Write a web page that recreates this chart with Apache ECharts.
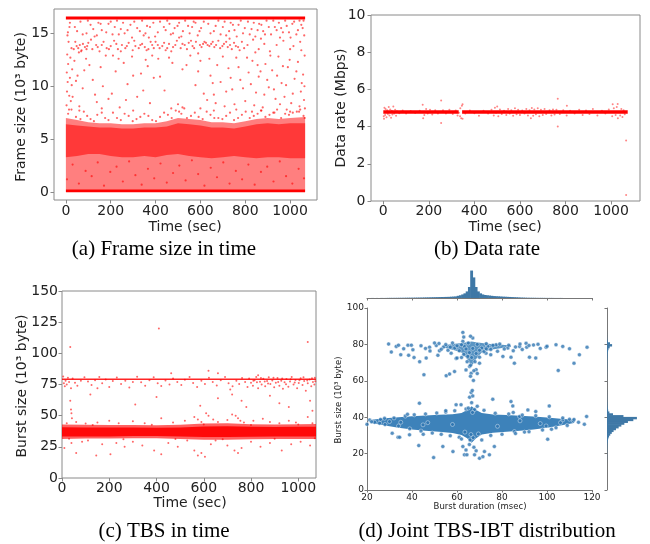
<!DOCTYPE html>
<html><head><meta charset="utf-8">
<script src="https://cdn.jsdelivr.net/npm/echarts@6/dist/echarts.min.js"></script>
<style>html,body{margin:0;padding:0;background:#fff}#c{width:650px;height:544px}</style>
</head><body><div id="c"></div><script>
// ---------- (a) Frame size in time ----------
const timeTicks = [0, 200, 400, 600, 800, 1000];
const frameTicks = [0, 5, 10, 15];
const frameTopLine = [[0, 16.44], [1067, 16.44]];
const frameBottomLine = [[0, 0.12], [1067, 0.12]];
const frameBandT = [0, 50, 100, 150, 200, 250, 300, 350, 400, 450, 500, 550, 600, 650, 700, 750, 800, 850, 900, 950, 1000, 1067];
const frameBandLo = [0.3, 0.3, 0.3, 0.3, 0.3, 0.3, 0.3, 0.3, 0.3, 0.3, 0.3, 0.3, 0.3, 0.3, 0.3, 0.3, 0.3, 0.3, 0.3, 0.3, 0.3, 0.3];
const frameBandHi = [7.0, 6.8, 6.6, 6.5, 6.5, 6.4, 6.4, 6.5, 6.5, 6.7, 7.0, 6.9, 6.8, 6.6, 6.6, 6.5, 6.7, 6.9, 7.0, 6.9, 7.0, 7.1];
const frameCoreLo = [3.3, 3.4, 3.6, 3.6, 3.4, 3.3, 3.3, 3.4, 3.3, 3.5, 3.6, 3.4, 3.3, 3.2, 3.3, 3.4, 3.3, 3.2, 3.3, 3.3, 3.2, 3.2];
const frameCoreHi = [6.4, 6.3, 6.2, 6.1, 6.1, 6.0, 6.0, 6.1, 6.1, 6.2, 6.5, 6.4, 6.3, 6.1, 6.1, 6.0, 6.2, 6.4, 6.5, 6.4, 6.5, 6.5];
const framePoints = [
 [3,8.2],[5,9.5],[8,10.4],[4,11.3],[10,12.1],[6,13.0],[12,14.2],[9,15.1],[15,9.1],[18,10.8],[20,12.7],[25,13.6],[14,7.8],[22,8.6],[28,11.6],[7,14.8],[16,15.6],[26,10.1],
 [35,13.5],[48,13.8],[55,13.6],[62,13.9],[70,13.4],[85,13.7],[100,14.1],[118,13.5],[135,13.9],[150,13.3],[168,14.2],[182,13.6],[200,13.8],[215,14.3],[232,13.5],[250,13.9],[265,13.6],[280,14.1],[298,13.4],[310,13.8],[325,13.6],[340,14.0],[352,13.7],[368,13.5],[385,13.9],[400,14.2],[418,13.6],[430,13.8],[445,13.4],[460,14.0],[478,13.7],[495,14.3],[512,13.6],[530,13.9],[548,14.1],[565,13.8],[580,14.2],[598,13.9],[612,14.0],[625,14.1],[640,13.8],[655,14.2],[670,13.9],[688,13.6],[705,14.0],[722,13.7],[740,13.5],[758,13.8],[775,13.4],[795,13.6],
 [58,13.2],[76,14.0],[92,13.5],[210,12.9],[370,14.6],[590,13.1],[730,14.5],[845,13.2],[1000,13.5],[1045,14.2],
 [42,14.2],[68,13.3],[95,13.8],[112,14.4],[142,13.7],[160,13.9],[192,13.5],[225,14.0],[245,13.3],[272,13.8],[305,14.3],[332,13.9],[360,13.4],[378,14.2],[392,13.6],[410,13.9],[438,14.1],[452,13.6],[470,13.3],[488,13.9],[520,14.0],[540,13.5],[558,14.3],[572,13.6],[605,13.7],[618,14.2],[632,13.9],[648,14.0],[662,13.7],[680,14.3],[698,13.8],[715,14.2],[732,13.9],[750,14.1],[768,13.7],[785,14.2],[810,13.9],[835,14.4],[860,13.5],[885,14.0],[910,13.3],[940,13.9],[970,14.3],[1015,13.8],[1050,13.4],
 [40,15.6],[65,16.1],[92,15.0],[110,15.8],[128,14.7],[145,16.0],[160,15.3],[190,15.9],[208,14.9],[228,16.2],[245,15.4],[262,15.0],[288,15.8],[305,16.1],[330,15.2],[347,14.8],[362,15.7],[390,16.0],[410,15.1],[437,15.6],[452,16.2],[468,14.9],[485,15.5],[505,16.0],[522,15.2],[545,15.7],[570,16.1],[588,14.8],[603,15.5],[635,15.9],[660,15.2],[680,16.2],[700,15.6],[715,14.8],[735,16.0],[752,15.3],[770,15.8],[790,15.0],[812,16.1],[828,15.4],[845,14.7],[862,15.9],[880,15.2],[895,16.2],[915,14.9],[932,15.6],[950,16.0],[968,15.1],[985,15.7],[1002,14.6],[1018,16.1],[1035,15.3],[1050,15.8],[1063,14.8],[1060,16.2],[955,14.6],[870,14.5],[505,14.6],
 [18,16.0],[50,15.2],[75,14.9],[98,16.2],[122,15.4],[138,14.8],[155,15.9],[180,15.1],[200,16.1],[218,15.6],[236,14.9],[255,16.0],[275,15.3],[295,14.6],[318,15.5],[340,16.2],[355,15.0],[375,15.6],[398,14.7],[420,16.1],[445,15.3],[462,15.9],[478,15.0],[498,15.7],[515,14.7],[532,16.2],[552,15.0],[563,15.6],[578,16.0],[596,15.2],[615,16.1],[645,15.0],[668,15.7],[690,14.9],[708,16.1],[728,15.2],[745,15.8],[762,14.7],[780,16.2],[798,15.5],[820,14.9],[838,16.0],[855,15.3],[872,15.8],[888,14.9],[905,15.6],[925,16.2],[940,15.3],[960,15.5],[978,16.2],[995,15.1],[1010,15.9],[1028,14.9],[1042,16.2],[1056,15.5],
 [38,12.4],[52,11.0],[75,9.8],[90,12.6],[120,10.6],[138,8.5],[155,11.8],[178,12.9],[205,9.3],[222,11.4],[240,8.0],[258,12.2],[275,10.2],[295,12.8],[318,9.0],[335,11.2],[356,12.5],[375,8.4],[392,10.8],
 [412,12.6],[440,9.6],[475,12.2],[500,8.3],[520,11.6],[555,12.9],[578,10.1],[600,12.4],[630,8.7],[645,11.0],
 [660,9.2],[675,12.0],[690,10.4],[708,8.1],[725,11.7],[742,9.7],[760,12.7],[778,10.6],[800,8.6],[815,11.3],[832,12.4],[848,9.4],[860,10.9],[878,8.0],[890,12.1],[905,9.9],[920,11.5],[935,8.8],[948,12.8],[962,10.3],[975,9.0],[990,11.8],[1005,8.4],[1020,10.7],[1035,12.3],[1048,9.5],[1058,11.1],[1065,12.9],[1062,8.7],[1040,7.6],[985,7.8],[870,7.7],
 [30,9.0],[45,10.5],[60,8.1],[82,11.5],[105,12.0],[130,9.2],[165,10.0],[190,8.8],[235,12.6],[268,8.7],[300,11.0],[345,9.6],[365,11.9],[385,12.9],[420,10.9],[460,12.7],[538,12.0],[590,11.4],[615,9.3],[640,12.6],[655,10.3],[668,8.4],[700,12.8],[715,9.5],[735,10.8],[752,8.3],[770,11.8],[790,9.8],[808,12.7],[825,10.2],[840,8.2],[855,12.0],[868,11.4],[885,9.2],[898,10.6],[912,12.9],[928,9.7],[942,11.0],[955,8.3],[968,11.9],[982,10.1],[998,12.5],[1012,9.3],[1028,11.4],[1042,8.1],[1052,10.3],[1064,10.0],[1066,7.9],[1000,7.6],[930,7.5],[830,7.6],[760,7.8],[660,7.7],[600,7.9],[520,8.0],[470,7.9],[300,7.7],[160,7.9],[60,7.7],
 [10,7.4],[45,7.1],[80,7.6],[110,6.9],[140,7.3],[175,7.0],[210,7.5],[245,6.8],[280,7.2],[315,6.9],[350,7.4],[385,6.8],[420,7.1],[455,7.3],[490,7.7],[515,7.4],[540,7.0],[575,7.5],[610,6.9],[645,7.3],[680,7.0],[715,7.2],[750,6.8],[785,7.3],[820,7.0],[855,7.4],[890,7.1],[925,7.5],[960,7.0],[995,7.3],[1030,7.6],[1060,7.2],
 [25,7.8],[65,6.9],[95,7.2],[125,6.7],[160,7.5],[190,6.8],[228,7.0],[262,7.4],[298,6.7],[332,7.1],[368,7.2],[402,6.7],[438,7.5],[472,7.0],[505,7.6],[528,7.9],[558,7.2],[592,7.1],[628,7.6],[662,7.0],[698,6.9],[732,7.5],[768,7.0],[802,7.6],[838,7.2],[872,7.7],[908,7.3],[942,7.8],[978,7.4],[1012,7.5],[1045,7.8],[1065,7.0],
 [5,1.2],[30,2.6],[58,0.8],[88,2.0],[115,1.5],[142,2.8],[170,0.6],[198,1.9],[226,2.4],[254,1.0],[282,2.9],[310,1.6],[338,0.7],[366,2.2],[394,1.3],[422,2.7],[450,0.9],[478,1.8],[506,2.5],[534,1.1],[562,3.0],[590,1.7],[618,0.6],[646,2.3],[674,1.4],[702,2.8],[730,0.8],[758,2.0],[786,1.2],[814,2.6],[842,0.7],[870,1.9],[898,2.4],[926,1.0],[954,2.9],[982,1.5],[1010,0.8],[1038,2.2],[1062,1.3]
];

// ---------- (b) Data rate ----------
const rateTicks = [0, 2, 4, 6, 8, 10];
const rateLine1 = [[0, 4.79], [331, 4.79]];
const rateLine2 = [[346, 4.79], [1073, 4.79]];
const ratePoints = [
 [2,4.55],[5,5.02],[8,4.62],[10,4.95],[14,4.5],[17,4.88],[20,4.68],[24,5.05],[27,4.6],[30,4.92],[34,4.47],[37,4.85],[40,4.65],[44,5.08],[48,4.7],[52,4.9],[56,4.58],[60,4.83],[3,4.42],
 [70,4.72],[85,4.86],[100,4.7],[120,4.84],[140,4.73],[160,4.85],
 [173,5.17],[175,4.45],[180,4.62],[188,4.95],[195,4.7],[205,4.9],[215,4.65],[228,4.88],[240,4.7],[254,5.4],[254,4.2],[262,4.88],[275,4.7],[290,4.9],[305,4.68],[318,4.86],[326,4.6],
 [332,4.75],[337,4.55],[348,5.2],[342,4.45],[345,5.12],[338,4.98],[348,4.42],
 [360,4.7],[380,4.86],[400,4.72],[420,4.58],[440,4.85],[460,4.7],[475,4.9],
 [485,4.6],[490,5.02],[495,4.75],[500,5.08],[505,4.55],[512,4.92],[520,4.68],[530,4.85],[540,4.62],[548,4.95],[555,4.7],[562,4.88],[570,4.58],[578,4.98],[585,4.66],[592,4.9],[600,4.62],[610,4.86],[620,4.7],[628,4.95],[635,4.6],[642,4.88],[648,4.45],[652,5.0],[658,4.58],[663,4.92],[670,4.66],[678,4.98],[685,4.55],[692,4.9],[700,4.62],[708,4.95],[715,4.68],[766,5.5],[766,4.0],[730,4.88],[738,4.6],[745,4.92],[752,4.65],[760,4.9],
 [775,4.68],[790,4.88],[806,5.12],[805,4.6],[820,4.85],[840,4.7],[860,4.9],[875,4.62],[890,4.86],[905,4.68],[920,4.95],[940,4.6],[960,4.85],[975,4.7],[990,4.92],[1007,5.2],[1005,4.55],[1012,4.98],[1020,4.62],[1025,5.05],[1030,4.45],[1029,5.22],[1040,4.6],[1045,4.95],[1050,4.52],[1055,4.88],[1060,4.66],[1066,3.25],[1066,0.32]
];

// ---------- (c) TBS in time ----------
const burstTicks = [0, 25, 50, 75, 100, 125, 150];
const tbsUpperLine = [[0, 79.3], [1075, 79.3]];
const tbsBandT = [0, 100, 200, 300, 400, 500, 600, 700, 800, 900, 1000, 1075];
const tbsCoreLo = [33.3, 33.3, 33.3, 33.6, 33.6, 33.3, 32.8, 32.8, 33.0, 33.3, 33.3, 33.3];
const tbsCoreHi = [40.8, 40.6, 40.5, 40.5, 40.3, 40.6, 41.4, 41.5, 41.1, 40.9, 41.1, 41.2];
const tbsHaloLo = [31.3, 31.6, 31.6, 31.8, 31.8, 31.3, 30.6, 30.6, 31.0, 31.3, 31.3, 31.3];
const tbsHaloHi = [43.0, 42.7, 42.6, 42.6, 42.4, 42.8, 43.8, 44.0, 43.2, 43.0, 43.2, 43.4];
const tbsPoints = [
 [5,81.5],[8,76],[12,73.5],[15,78],[20,75],[25,80.5],[30,77],[38,72],[45,79.8],[55,76.5],[65,74],[80,78],[95,80.8],[110,77.5],[125,74.5],[140,78.5],[158,81],[170,76],[185,79],[200,73],[215,77.8],[232,80.6],[250,75.5],[268,78],[285,72.5],[300,77],[318,81.2],[335,76.8],[352,74],[370,78.5],[388,80.9],[405,76],[420,73.8],[438,78.2],[455,75],[462,84],[470,79.8],[488,77],[505,74.5],[520,78.8],[540,81],[555,76.2],[572,73],[590,78],[605,75.5],[620,86],[622,80.5],[638,77],[655,74.2],[660,84],[672,78.5],[690,81],[705,76],[712,71],[722,73.5],[738,78],[750,75.5],[762,80.2],[775,77],[785,73],[792,79.8],[800,76.5],[808,74],[815,78.5],[822,81],[830,72],[838,77.2],[845,75],[852,79.6],[860,73.5],[868,77.8],[875,80.8],[882,75.5],[890,78.3],[898,72.8],[905,76.5],[912,80.2],[920,74],[928,78],[935,71.5],[942,76.8],[950,79.5],[958,73.2],[965,77.5],[972,81],[980,75],[988,78.6],[995,72],[1002,76.2],[1010,80],[1018,74.5],[1025,77.8],[1032,70],[1040,76],[1048,79],[1055,73.5],[1062,77],[1070,80.5],[1068,75],
 [810,78],[825,76.8],[842,80.2],[858,77.5],[872,75.8],[895,80.5],[915,77],[932,79.8],[948,75.2],[968,79.2],[985,76.6],[1005,78.4],[1022,80.8],[1038,78.2],[1058,80],[1072,77.6],
 [410,120],[1040,109],[35,105],[830,82.5],
 [35,62],[38,55],[40,52],[42,48],[310,59],[400,65],[660,64],[720,67],[760,62],[920,60],[1050,62],[1060,54],[880,66],[960,57],[780,57],[120,67],[585,58],[150,72],
 [20,44],[60,45],[100,43.8],[150,44.5],[200,46],[240,44],[300,45.5],[350,44],[420,48],[470,44.5],[520,46],[560,49],[575,47],[590,45],[610,52],[620,50],[640,47],[660,45],[700,46.5],[720,51],[735,50],[745,48],[755,46],[770,44.5],[810,46],[850,47.5],[880,45],[920,44],[960,46],[990,44.5],[1040,49],[1060,44],
 [10,24],[40,28],[60,20],[85,29],[110,30],[145,18],[170,27],[205,19],[230,28],[265,25],[300,29],[340,26],[390,22],[420,19],[450,28],[490,25],[530,30],[560,22],[575,18],[590,20],[605,17],[630,27],[650,30],[700,26],[730,22],[745,20],[760,24],[800,29],[840,25],[880,28],[930,22],[970,27],[1010,29],[1050,26],
 [30,31.5],[130,42.5],[260,31],[380,42.8],[480,31.2],[600,43],[680,31],[800,42.6],[900,31.4],[1000,42.9],[1070,31.8]
];

// ---------- (d) Joint TBS-IBT distribution ----------
const durTicks = [20, 40, 60, 80, 100, 120];
const sizeTicks = [0, 20, 40, 60, 80, 100];
const lowCoreX  = [22, 28, 34, 40, 46, 52, 58, 62, 64.5, 66.5, 68.5, 71, 76, 82, 88, 94, 100, 106, 112];
const lowCoreLo = [36.8, 35.5, 34.2, 33.3, 32.6, 32.0, 31.3, 30.2, 28.5, 26.0, 28.5, 30.5, 31.5, 32.0, 32.5, 33.2, 34.2, 35.5, 36.8];
const lowCoreHi = [38.6, 39.4, 40.0, 40.5, 41.0, 41.3, 41.6, 42.3, 44.0, 46.0, 44.0, 42.3, 41.5, 41.2, 40.8, 40.4, 39.8, 39.2, 38.6];
const upCoreX  = [54, 58, 62, 64.5, 66.5, 68.5, 71, 75, 80, 84];
const upCoreLo = [78.3, 77.0, 75.5, 72.0, 68.0, 72.0, 75.5, 77.0, 78.0, 78.6];
const upCoreHi = [79.6, 80.2, 80.8, 81.2, 81.6, 81.2, 80.8, 80.2, 79.8, 79.4];
const jointPoints = [
 [29.6,80.2],[30.8,75.8],[33,78.9],[34,79.6],[35,74.3],[36.3,77.6],[38.2,79.6],[38.5,74],[39.7,79.6],[40.4,77],[40.9,72.8],[43.4,70.5],[45.3,63.3],[46,77.8],[46.3,72.5],[47.8,78.5],[50.8,79.4],[51.5,74],[52.2,76.5],[55.2,62.8],[56.7,63.7],[58.9,65.1],[57.4,75.2],[59.6,72.3],[62.6,81.7],[62.6,86.6],[63.3,78.9],[64.8,73.4],[65.6,67.9],[66.3,64.2],[67.3,60.2],[68.5,66.1],[70,69.7],[72.9,75.2],[73.7,78.9],[77.4,79.8],[80.4,73.4],[82.6,78],[84,73],[85.5,69.7],[87.8,78.9],[90.7,80.6],[92.2,73],[95,72.5],[99.6,78.5],[104,79.8],[107,78.9],[110,77.6],[112,69.7],[114.4,74.3],[105,65.7],[117.8,78.5],
 [52,80.5],[54,78.6],[56,76.8],[58,80.8],[59,78],[61,76.5],[62,79.8],[63,74.5],[64,77.5],[64.5,70.5],[65,80.8],[65.5,75.5],[66,68.5],[66.5,72.8],[67,77.8],[67.5,65.5],[68,70.5],[68.5,75],[69,80],[70,73],[71,78],[72,76],[73,80.4],[75,77.2],[76,79.5],[78,76.2],[79,80.2],[81,77.5],[83,79.6],[85,76.5],[88,80.2],[91,78.5],[94,79.7],[97,77.8],[60,72.5],[57,78.5],[66,62.5],[64,66],[69,64],[67,83.5],[66,84.5],[63,84],
 [44,79.2],[48,76.4],[50,80.8],[53,77.4],[55,79.9],[86,78.6],[89,77.2],[92,79.4],[96,80.1],[100,79.0],[75,74.3],[62,72.8],[70,76.8],[60,79.2],[73,77.6],
 [20,36.1],[21.2,38.5],[23.4,37.2],[25.6,36.7],[27.8,39.4],[30,37.6],[31.2,31.2],[33.8,29],[34.5,29],[38.9,30.3],[43,24.4],[43.3,47.7],[44.9,35.8],[49.6,17.8],[53.7,23.9],[58.2,21.1],[59.6,46.8],[61,29],[61.8,46.8],[62.6,23.9],[63.3,19.3],[64,22],[64.4,19.3],[65.6,51],[66.3,53.6],[66.8,54.7],[67,51.7],[67.8,19.3],[68.5,21.5],[70,17.4],[71.5,18.3],[72.2,21.1],[74.4,19.3],[75.9,49.9],[76.6,23.9],[84,48.6],[84.8,46.2],[85.5,32.1],[87.8,40.4],[91.5,44],[95,43.1],[99.6,35.2],[100.3,27.9],[101,46.2],[107,38.5],[110,38.9],[111.7,38],[116.6,36.1],[117.6,40.4],
 [22,37.5],[26,38.8],[28,36],[32,39.6],[34,35.2],[37,40.6],[39,33.6],[41,41.3],[44,32.4],[46,41.8],[49,31.3],[51,42.3],[53,30.6],[55,42.8],[57,29.8],[59,43.5],[62,28],[64,44.5],[65.5,25],[66.5,48],[67.5,23.5],[69,46],[71,27.5],[72,43.8],[75,30],[77,42.2],[80,30.6],[83,41.8],[86,31],[89,41.2],[92,32],[95,40.8],[98,33],[101,40.2],[104,34.2],[107,39.6],[109,35.5],[112,38.8],[114,37.2],[106,37],[97,36.5],[88,38],[78,35],[58,36],[47,37],[35,37.2],
 [65.8,27.5],[67.2,28.8],[66.2,30.5],[65,45],[67.8,44.2],[66.9,42.6],[63.5,31.8],[69.5,30.8],[45,30.6],[55,43.6],[85,42.6],[90,31.8],[102,33.4],[38,41.6]
];
// marginal histograms (relative heights), 1-unit bins
const durBinStart = 20;
const durCounts = [
 0,0,0.2,0,0.2,0,0.3,0.2,0.3,0.4,
 0.5,0.5,0.6,0.6,0.7,0.8,0.9,1.0,1.1,1.2,
 1.3,1.4,1.5,1.7,1.8,2.0,2.2,2.4,2.6,2.8,
 3.0,3.2,3.4,3.6,3.8,4.0,4.3,4.7,5.2,5.8,
 8,10,13,17,24,40,100,75,40,24,
 17,13,11,10,9,8,7,6.5,6,5.5,
 5,4.6,4.2,3.8,3.4,3.0,2.6,2.2,1.8,1.5,
 1.2,1.0,0.9,0.8,0.7,0.6,0.5,0.5,0.4,0.4,
 0.3,0.3,0.3,0.2,0.2,0.2,0.2,0.1,0.1,0.1,
 0.1,0.1,0,0.1,0,0,0,0.1,0,0
];
const sizeBinStart = 0;
const sizeCounts = [
 0,0,0,0,0,0,0,0,0,0,
 0,0,0,0,0,0.1,0.2,0.3,0.4,0.4,
 0.5,0.6,0.7,0.9,1.2,1.6,2.2,3,4.5,7,
 11,16,22,30,39,48,58,70,88,100,
 55,20,8,4,2.5,1.8,1.3,1,0.8,0.6,
 0.5,0.4,0.3,0.2,0.2,0.1,0,0,0.1,0.1,
 0.2,0.2,0.3,0.3,0.4,0.5,0.6,0.7,0.8,0.9,
 1,1.2,1.4,1.7,2,2.5,3.5,5,9,17,
 10,3,1,0.5,0.3,0.2,0.1,0,0,0,
 0,0,0,0,0,0,0,0,0,0
];

// ---------- build ----------
const RED = 'rgba(255,0,0,0.75)';
const BOX = '#8a8a8a';
const TXT = '#222';
const FONT = 'DejaVu Sans';

function bandSeries(xi, xs, lo, hi, color, z) {
  return {
    type: 'custom', xAxisIndex: xi, yAxisIndex: xi, silent: true, z: z, clip: true,
    data: [[xs[0], lo[0]]],
    renderItem: function (params, api) {
      const pts = [];
      for (let i = 0; i < xs.length; i++) pts.push(api.coord([xs[i], hi[i]]));
      for (let i = xs.length - 1; i >= 0; i--) pts.push(api.coord([xs[i], lo[i]]));
      return { type: 'polygon', shape: { points: pts }, style: { fill: color } };
    }
  };
}
function histSeries(idx, start, counts, horizontal, color) {
  const data = counts.map(function (c, i) { return horizontal ? [c, start + i] : [start + i, c]; });
  return {
    type: 'custom', xAxisIndex: idx, yAxisIndex: idx, silent: true, clip: false, data: data,
    renderItem: function (params, api) {
      let p0, p1;
      if (horizontal) {
        const c = api.value(0), y = api.value(1);
        if (c <= 0) return null;
        p0 = api.coord([0, y]); p1 = api.coord([c, y + 1]);
        return { type: 'rect', shape: { x: p0[0], y: p1[1] - 0.3, width: p1[0] - p0[0], height: p0[1] - p1[1] + 0.6 }, style: { fill: color } };
      }
      const x = api.value(0), c = api.value(1);
      if (c <= 0) return null;
      p0 = api.coord([x, 0]); p1 = api.coord([x + 1, c]);
      return { type: 'rect', shape: { x: p0[0] - 0.3, y: p1[1], width: p1[0] - p0[0] + 0.6, height: p0[1] - p1[1] }, style: { fill: color } };
    }
  };
}
function lineSeries(idx, data, width, color) {
  return { type: 'line', xAxisIndex: idx, yAxisIndex: idx, data: data, symbol: 'none', silent: true, z: 3,
    lineStyle: { color: color, width: width }, animation: false };
}
function scatterSeries(idx, data, size, style) {
  return { type: 'scatter', xAxisIndex: idx, yAxisIndex: idx, data: data, symbolSize: size, silent: true, z: 4,
    itemStyle: style, animation: false };
}
function boxAxis(pos, min, max, ticks, margin, fs) {
  return {
    type: 'value', position: pos, min: min, max: max,
    axisLine: { show: false, onZero: false },
    axisTick: { show: true, length: 3.5, lineStyle: { color: BOX }, customValues: ticks },
    axisLabel: { show: true, customValues: ticks, margin: margin, color: TXT, fontFamily: FONT, fontSize: fs, formatter: function (v) { return String(v); } },
    splitLine: { show: false }
  };
}
function plainAxis(pos, min, max) {
  return { type: 'value', position: pos, min: min, max: max, show: false,
    axisLine: { show: false, onZero: false }, axisTick: { show: false }, axisLabel: { show: false }, splitLine: { show: false } };
}
function jointAxis(pos, min, max, ticks, labels) {
  const st = { color: '#777', width: 1 };
  return { type: 'value', position: pos, min: min, max: max,
    axisLine: { show: true, onZero: false, lineStyle: st },
    axisTick: { show: true, length: 2.5, lineStyle: st, customValues: ticks },
    axisLabel: { show: labels, customValues: ticks, margin: 3, color: TXT, fontFamily: FONT, fontSize: 9, formatter: function (v) { return String(v); } },
    splitLine: { show: false } };
}

const grids = [
  { left: 54, top: 9, width: 263, height: 191, show: true, borderColor: BOX, borderWidth: 1 },
  { left: 371, top: 15, width: 269, height: 186, show: true, borderColor: BOX, borderWidth: 1 },
  { left: 62, top: 291, width: 254, height: 187, show: true, borderColor: BOX, borderWidth: 1 },
  { left: 367, top: 308, width: 225, height: 182 },
  { left: 367, top: 270, width: 225, height: 28 },
  { left: 607, top: 308, width: 32, height: 182 }
].map(function (g) { return Object.assign({ containLabel: false, outerBoundsMode: 'none' }, g); });

const xAxes = [
  Object.assign(boxAxis('bottom', -53, 1120, timeTicks, 4, 14), { gridIndex: 0 }),
  Object.assign(boxAxis('bottom', -54, 1127, timeTicks, 3, 14), { gridIndex: 1 }),
  Object.assign(boxAxis('bottom', 0, 1075, timeTicks, 3, 14), { gridIndex: 2 }),
  Object.assign(jointAxis('bottom', 20, 120, durTicks, true), { gridIndex: 3 }),
  Object.assign(jointAxis('bottom', 20, 120, durTicks, false), { gridIndex: 4 }),
  Object.assign(plainAxis('bottom', 0, 107), { gridIndex: 5 })
];
const yAxes = [
  Object.assign(boxAxis('left', -0.75, 17.3, frameTicks, 5, 14), { gridIndex: 0 }),
  Object.assign(boxAxis('left', 0, 10, rateTicks, 5.5, 14), { gridIndex: 1 }),
  Object.assign(boxAxis('left', 0, 150, burstTicks, 4, 14), { gridIndex: 2 }),
  Object.assign(jointAxis('left', 0, 100, sizeTicks, true), { gridIndex: 3 }),
  Object.assign(plainAxis('left', 0, 102), { gridIndex: 4 }),
  Object.assign(jointAxis('left', 0, 100, sizeTicks, false), { gridIndex: 5 })
];

const BLUE = '#2f76b2';
const series = [
  bandSeries(0, frameBandT, frameBandLo, frameBandHi, 'rgba(255,0,0,0.5)', 1),
  bandSeries(0, frameBandT, frameCoreLo, frameCoreHi, 'rgba(255,0,0,0.55)', 1),
  lineSeries(0, frameTopLine, 3, '#ff0000'),
  lineSeries(0, frameBottomLine, 3, '#ff0000'),
  scatterSeries(0, framePoints, 2.2, { color: RED }),
  lineSeries(1, rateLine1, 3.5, '#ff0000'),
  lineSeries(1, rateLine2, 3.5, '#ff0000'),
  scatterSeries(1, ratePoints, 2, { color: 'rgba(255,0,0,0.6)' }),
  bandSeries(2, tbsBandT, tbsHaloLo, tbsHaloHi, 'rgba(255,0,0,0.62)', 1),
  bandSeries(2, tbsBandT, tbsCoreLo, tbsCoreHi, 'rgba(255,0,0,0.9)', 1),
  lineSeries(2, tbsUpperLine, 1.5, 'rgba(255,0,0,0.85)'),
  scatterSeries(2, tbsPoints, 2, { color: RED }),
  bandSeries(3, lowCoreX, lowCoreLo, lowCoreHi, '#3d82ba', 1),
  bandSeries(3, upCoreX, upCoreLo, upCoreHi, 'rgba(61,130,186,0.85)', 1),
  scatterSeries(3, jointPoints, 4, { color: BLUE, borderColor: '#ffffff', borderWidth: 0.5 }),
  histSeries(4, durBinStart, durCounts, false, '#3f78a6'),
  histSeries(5, sizeBinStart, sizeCounts, true, '#3f78a6')
];

function label(text, x, y, size, rot, family) {
  return { type: 'text', x: x, y: y, rotation: rot || 0, silent: true,
    style: { text: text, fill: family ? '#000' : TXT, font: size + 'px "' + (family || FONT) + '"', align: 'center', verticalAlign: 'middle' } };
}
const graphics = [
  label('Frame size (10³ byte)', 21, 107, 14, Math.PI / 2),
  label('Time (sec)', 185, 227, 14),
  label('Data rate (Mbps)', 341, 108, 14, Math.PI / 2),
  label('Time (sec)', 505, 227, 14),
  label('Burst size (10³ byte)', 22, 386, 14, Math.PI / 2),
  label('Time (sec)', 190, 503, 14),
  label('Burst size (10³ byte)', 339, 400, 8.5, Math.PI / 2),
  label('Burst duration (msec)', 480, 507, 8.5),
  label('(a) Frame size in time', 164, 249, 21, 0, 'Liberation Serif'),
  label('(b) Data rate', 487, 249, 21, 0, 'Liberation Serif'),
  label('(c) TBS in time', 164, 531, 21, 0, 'Liberation Serif'),
  label('(d) Joint TBS-IBT distribution', 487, 531, 21, 0, 'Liberation Serif')
];

const chart = echarts.init(document.getElementById('c'), null, { renderer: 'canvas' });
chart.setOption({
  animation: false,
  backgroundColor: '#ffffff',
  grid: grids, xAxis: xAxes, yAxis: yAxes, series: series,
  graphic: { elements: graphics }
});
</script></body></html>
